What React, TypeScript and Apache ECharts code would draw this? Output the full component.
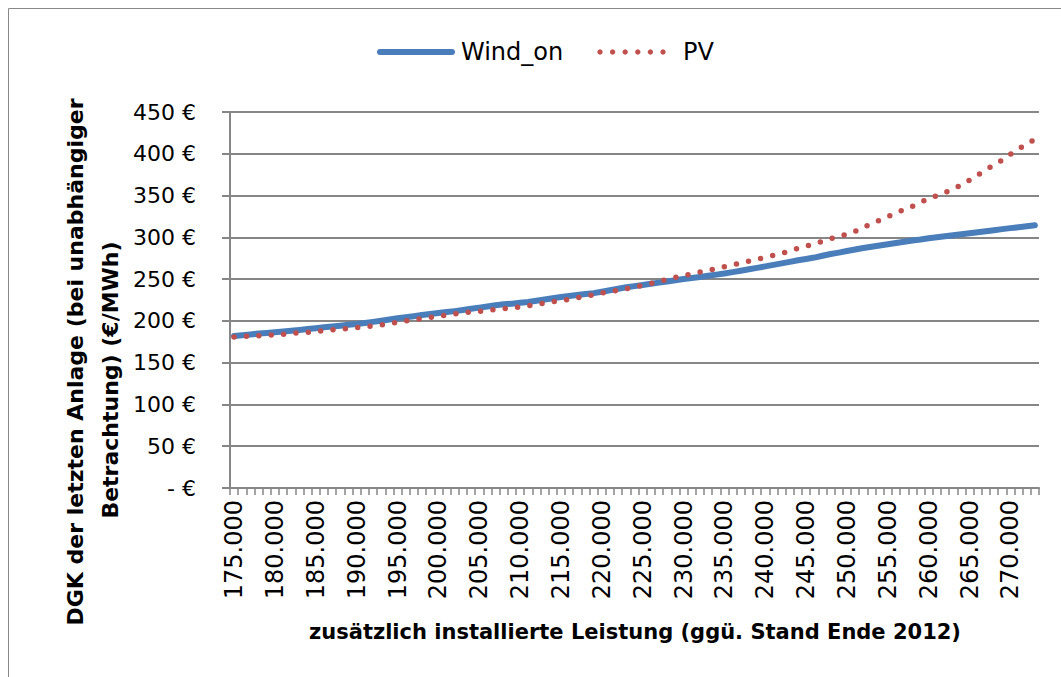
import React, { useEffect, useRef } from "react";
import * as echarts from "echarts";

const categories: string[] = [
  "175.000","176.000","177.000","178.000","179.000","180.000","181.000","182.000","183.000","184.000",
  "185.000","186.000","187.000","188.000","189.000","190.000","191.000","192.000","193.000","194.000",
  "195.000","196.000","197.000","198.000","199.000","200.000","201.000","202.000","203.000","204.000",
  "205.000","206.000","207.000","208.000","209.000","210.000","211.000","212.000","213.000","214.000",
  "215.000","216.000","217.000","218.000","219.000","220.000","221.000","222.000","223.000","224.000",
  "225.000","226.000","227.000","228.000","229.000","230.000","231.000","232.000","233.000","234.000",
  "235.000","236.000","237.000","238.000","239.000","240.000","241.000","242.000","243.000","244.000",
  "245.000","246.000","247.000","248.000","249.000","250.000","251.000","252.000","253.000","254.000",
  "255.000","256.000","257.000","258.000","259.000","260.000","261.000","262.000","263.000","264.000",
  "265.000","266.000","267.000","268.000","269.000","270.000","271.000","272.000","273.000"
];

const windOn: number[] = [
  182.0,182.8,183.7,184.8,185.6,186.4,187.2,188.2,189.2,190.2,
  191.2,192.3,193.3,194.3,195.3,196.2,197.4,198.8,200.2,201.6,
  203.1,204.3,205.6,207.0,208.3,209.5,210.6,211.7,213.0,214.5,
  215.9,217.3,218.8,219.8,220.6,221.6,222.6,224.1,225.6,227.1,
  228.6,229.8,231.0,232.1,233.2,234.9,236.7,238.5,240.2,241.6,
  243.0,244.4,245.8,247.2,248.6,250.1,251.3,252.6,254.0,255.4,
  256.8,258.4,260.1,261.8,263.5,265.2,267.0,268.8,270.6,272.5,
  274.1,275.8,278.0,280.0,281.7,283.6,285.5,287.2,288.8,290.3,
  291.8,293.2,294.7,296.1,297.3,298.8,300.0,301.3,302.6,303.8,
  305.0,306.2,307.4,308.6,309.8,311.0,312.0,313.2,314.4
];

const pv: number[] = [
  180.7,181.2,181.8,182.3,182.9,183.5,184.1,184.9,185.7,186.4,
  187.3,188.2,189.2,190.1,191.0,191.9,192.9,194.0,195.2,196.6,
  198.3,200.0,201.5,202.9,204.3,205.6,207.0,208.4,209.7,210.6,
  211.5,212.5,213.6,214.6,215.6,216.6,218.0,219.6,221.4,223.0,
  224.4,225.9,227.5,229.5,231.4,233.3,235.0,236.8,238.6,240.6,
  242.6,244.7,247.1,249.6,252.0,254.1,256.3,258.4,260.5,262.6,
  264.8,267.0,269.3,271.6,273.6,276.3,278.4,280.8,283.8,286.8,
  289.5,292.3,295.3,298.5,301.0,303.8,307.2,312.0,316.3,320.4,
  324.7,329.0,333.2,337.1,341.9,346.2,350.0,353.6,357.8,362.7,
  368.4,374.5,380.7,386.7,392.4,399.5,405.7,411.5,417.3
];

const seriesNames: string[] = ["Wind_on", "PV"];
const yTitleLines: string[] = ["DGK der letzten Anlage (bei unabhängiger", "Betrachtung) (€/MWh)"];
const xTitle = "zusätzlich installierte Leistung (ggü. Stand Ende 2012)";

const FONT = "'DejaVu Sans', Verdana, sans-serif";
const GRID = "#868686";
const BLUE = "#4A7EBB";
const RED = "#C0504D";

export default function App() {
  const ref = useRef<HTMLDivElement>(null);
  useEffect(() => {
    if (!ref.current) return;
    const chart = echarts.init(ref.current, undefined, { renderer: "svg" });
    const pvLegendDots = [600, 612.6, 625.2, 637.8, 650.4, 663].map((cx) => ({
      type: "circle",
      shape: { cx, cy: 52, r: 2.7 },
      style: { fill: RED },
      silent: true,
    }));
    chart.setOption({
      animation: false,
      backgroundColor: "#ffffff",
      textStyle: { fontFamily: FONT, color: "#000" },
      legend: { show: false, data: seriesNames },
      grid: { left: 230, right: 22, top: 112, bottom: 189 },
      xAxis: {
        type: "category",
        data: categories,
        boundaryGap: true,
        axisLine: { lineStyle: { color: GRID, width: 2 } },
        axisTick: { show: true, interval: 0, length: 7, lineStyle: { color: GRID, width: 1.5 } },
        axisLabel: {
          interval: 4,
          rotate: 90,
          margin: 12,
          fontSize: 24,
          fontFamily: FONT,
          color: "#000",
        },
        splitLine: { show: false },
      },
      yAxis: {
        type: "value",
        min: 0,
        max: 450,
        interval: 50,
        axisLine: { show: true, lineStyle: { color: GRID, width: 2 } },
        axisTick: { show: true, length: 8, lineStyle: { color: GRID, width: 2 } },
        axisLabel: {
          fontSize: 22,
          fontFamily: FONT,
          color: "#000",
          margin: 34,
          formatter: (v: number) => (v === 0 ? "- €" : v + " €"),
        },
        splitLine: { show: true, lineStyle: { color: GRID, width: 2 } },
      },
      series: [
        {
          name: seriesNames[0],
          type: "line",
          data: windOn,
          symbol: "none",
          lineStyle: { color: BLUE, width: 6, cap: "round", join: "round" },
          itemStyle: { color: BLUE },
          z: 2,
        },
        {
          name: seriesNames[1],
          type: "line",
          data: pv,
          symbol: "none",
          lineStyle: { color: RED, width: 5.5, type: [0, 12.4], cap: "round" },
          itemStyle: { color: RED },
          z: 3,
        },
      ],
      graphic: [
        {
          type: "polyline",
          shape: { points: [[8.5, 677], [8.5, 8.5], [1061, 8.5]] },
          style: { stroke: "#898989", lineWidth: 1, fill: "none" },
          silent: true,
        },
        {
          type: "line",
          shape: { x1: 380, y1: 52, x2: 452, y2: 52 },
          style: { stroke: BLUE, lineWidth: 6, lineCap: "round" },
          silent: true,
        },
        {
          type: "text",
          x: 461,
          y: 52,
          style: { text: seriesNames[0], font: "24px " + FONT, fill: "#000", align: "left", verticalAlign: "middle" },
        },
        ...pvLegendDots,
        {
          type: "text",
          x: 683,
          y: 52,
          style: { text: seriesNames[1], font: "24px " + FONT, fill: "#000", align: "left", verticalAlign: "middle" },
        },
        {
          type: "text",
          x: 75,
          y: 362,
          rotation: Math.PI / 2,
          style: {
            text: yTitleLines[0],
            font: "bold 22px " + FONT,
            fill: "#000",
            align: "center",
            verticalAlign: "middle",
          },
        },
        {
          type: "text",
          x: 110,
          y: 380,
          rotation: Math.PI / 2,
          style: {
            text: yTitleLines[1],
            font: "bold 22px " + FONT,
            fill: "#000",
            align: "center",
            verticalAlign: "middle",
          },
        },
        {
          type: "text",
          x: 635,
          y: 632,
          style: {
            text: xTitle,
            font: "bold 21px " + FONT,
            fill: "#000",
            align: "center",
            verticalAlign: "middle",
          },
        },
      ],
    });
    return () => chart.dispose();
  }, []);
  return (
    <div
      ref={ref}
      style={{ position: "absolute", left: 0, top: 0, width: 1061, height: 677 }}
    />
  );
}
